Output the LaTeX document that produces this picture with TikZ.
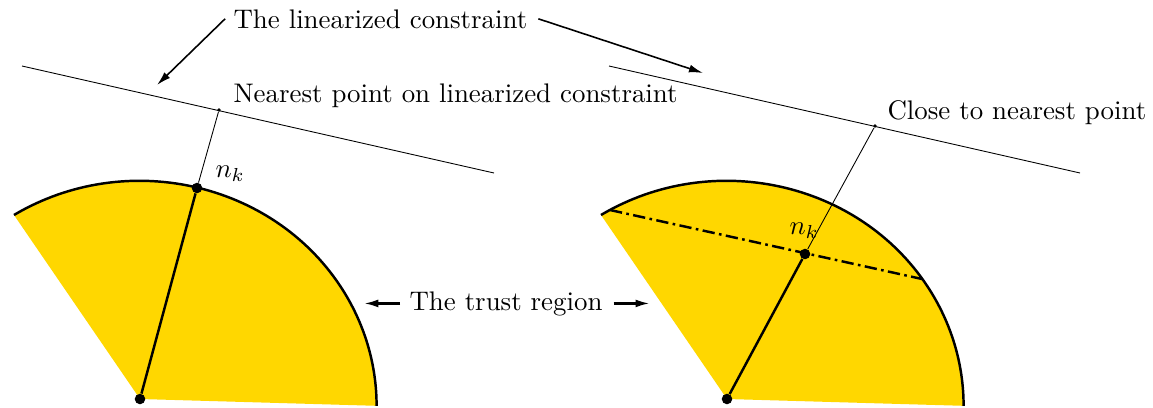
\documentclass[tikz,border=0pt]{standalone}
\usetikzlibrary{arrows.meta}
\definecolor{trustgold}{RGB}{255,215,0}
\begin{document}
\begin{tikzpicture}[
    x=0.02cm, y=0.02cm,
    region/.style={fill=trustgold},
    rim/.style={line width=1.4pt},
    thinline/.style={line width=0.5pt},
    bigdot/.style={circle, fill, inner sep=0pt, minimum size=6pt},
    smalldot/.style={circle, fill, inner sep=0pt, minimum size=2.2pt},
    pointer/.style={-{Latex[length=8pt,width=4.5pt]}, line width=0.9pt},
    txt/.style={scale=1.53, inner sep=0pt}
]
\useasboundingbox (0,0) rectangle (1153,407);

% Trust region (left)
\fill[region] (140,8) -- (14,192) arc[start angle=122, end angle=0, x radius=237, y radius=225] -- cycle;
\draw[rim] (14,192) arc[start angle=122, end angle=0, x radius=237, y radius=225];

% Trust region (right)
\fill[region] (727,8) -- (601,192) arc[start angle=122, end angle=0, x radius=237, y radius=225] -- cycle;
\draw[rim] (601,192) arc[start angle=122, end angle=0, x radius=237, y radius=225];

% Linearized constraints
\coordinate (l1a) at (22,341);
\coordinate (l1b) at (494,234);
\coordinate (l2a) at (609,341);
\coordinate (l2b) at (1080,234);
\draw[thinline] (l1a) -- (l1b);
\draw[thinline] (l2a) -- (l2b);

% Steps (left)
\node[bigdot] (c1) at (140,8) {};
\node[bigdot] (n1) at (197,219) {};
\node[smalldot] (p1) at (219,297) {};
\draw[rim] (c1) -- (n1);
\draw[thinline] (n1) -- (p1);

% Steps (right)
\coordinate (d2a) at (610,197);
\coordinate (d2b) at (922,128);
\draw[rim, dash pattern=on 7pt off 2.5pt on 1.5pt off 2.5pt] (d2a) -- (d2b);
\node[bigdot] (c2) at (727,8) {};
\node[bigdot] (n2) at (805,153) {};
\node[smalldot] (p2) at (875,281) {};
\draw[rim] (c2) -- (n2);
\draw[thinline] (n2) -- (p2);

% Labels
\node[txt, anchor=base west] (lin) at (233,379) {The linearized constraint};
\node[txt, anchor=base west] (nearest) at (233,305) {Nearest point on linearized constraint};
\node[txt, anchor=base west] (close) at (887,288) {Close to nearest point};
\node[txt, anchor=base west] (nk1) at (215,230) {$n_k$};
\node[txt, anchor=base west] (nk2) at (789,173) {$n_k$};
\node[txt, anchor=base] (trust) at (506,97) {The trust region};

% Pointers
\coordinate (tip1) at (157,322);
\coordinate (tip2) at (703,334);
\draw[pointer] ([xshift=-4.5pt]lin.west) -- (tip1);
\draw[pointer] ([xshift=6pt]lin.east) -- (tip2);
\draw[pointer, line width=1.2pt] ([xshift=-5pt]trust.west) -- ++(-36,0);
\draw[pointer, line width=1.2pt] ([xshift=6pt]trust.east) -- ++(36,0);

\end{tikzpicture}
\end{document}
